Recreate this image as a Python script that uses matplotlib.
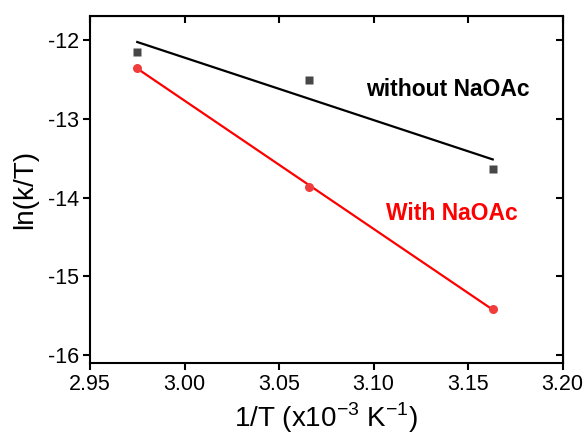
import numpy as np
import matplotlib
matplotlib.use("Agg")
import matplotlib.pyplot as plt

plt.rcParams['font.family'] = ['Liberation Sans', 'DejaVu Sans']
plt.rcParams['axes.unicode_minus'] = False
plt.rcParams['mathtext.fontset'] = 'custom'
plt.rcParams['mathtext.rm'] = 'Liberation Sans'

# 1/T in units of 1e-3 K^-1
inv_T = [2.975, 3.066, 3.163]
# ln(k/T) values
ln_kT_without = [-12.149, -12.509, -13.632]
ln_kT_with = [-12.352, -13.866, -15.414]

fig = plt.figure(figsize=(5.88, 4.38), dpi=100)
ax = fig.add_axes([0.153, 0.1705, 0.804, 0.794])

x = np.array(inv_T)

# linear fits (Arrhenius-type)
p1 = np.polyfit(x, ln_kT_without, 1)
p2 = np.polyfit(x, ln_kT_with, 1)
ax.plot(x, np.polyval(p1, x), color='black', lw=1.6, zorder=2)
ax.plot(x, np.polyval(p2, x), color='#ff0000', lw=1.6, zorder=2)

ax.plot(x, ln_kT_without, 's', color='#474747', ms=5.5, mec='none', zorder=3)
ax.plot(x, ln_kT_with, 'o', color='#f03c3c', ms=6.5, mec='none', zorder=3)

# labels placed in axes fraction
ax.text(0.584, 0.787, 'without NaOAc', transform=ax.transAxes, fontsize=16.5,
        fontweight='bold', color='black', va='center', ha='left')
ax.text(0.626, 0.431, 'With NaOAc', transform=ax.transAxes, fontsize=16.5,
        fontweight='bold', color='#ff0000', va='center', ha='left')

ax.set_xlim(2.95, 3.20)
ax.set_ylim(-16.105, -11.69)
ax.set_xticks([2.95, 3.00, 3.05, 3.10, 3.15, 3.20])
ax.set_xticklabels(['2.95', '3.00', '3.05', '3.10', '3.15', '3.20'])
ax.set_yticks([-16, -15, -14, -13, -12])

for s in ax.spines.values():
    s.set_linewidth(1.5)
ax.tick_params(direction='out', length=5, width=1.5, labelsize=15.5, pad=3)

# mirrored ticks pointing inward on top and right
top = ax.secondary_xaxis('top')
top.set_xticks([2.95, 3.00, 3.05, 3.10, 3.15, 3.20])
top.tick_params(direction='in', length=5, width=1.5, labeltop=False)
right = ax.secondary_yaxis('right')
right.set_yticks([-16, -15, -14, -13, -12])
right.tick_params(direction='in', length=5, width=1.5, labelright=False)

ax.set_xlabel(r'1/T (x10$^{\mathregular{-3}}$ K$^{\mathregular{-1}}$)', fontsize=20, labelpad=4)
ax.set_ylabel('ln(k/T)', fontsize=20, labelpad=7)

fig.savefig('out.png', dpi=100)
